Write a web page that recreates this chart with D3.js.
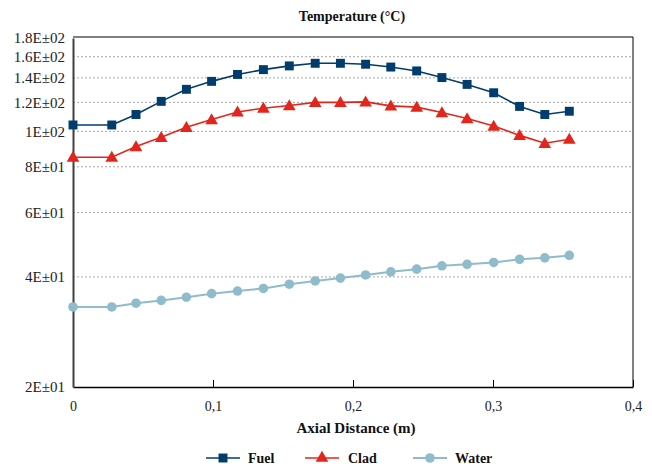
<!DOCTYPE html>
<html>
<head>
<meta charset="utf-8">
<script src="https://cdn.jsdelivr.net/npm/d3@7"></script>
<style>
  html, body { margin: 0; padding: 0; background: #fff; }
  svg { display: block; }
</style>
</head>
<body>
<svg id="chart" width="652" height="469"></svg>
<script>
// ---- data ----
const axialDistance = [0, 0.0277, 0.0450, 0.0630, 0.0810, 0.0990, 0.1175, 0.1360, 0.1545, 0.1730,
  0.1910, 0.2090, 0.2270, 0.2455, 0.2635, 0.2815, 0.3005, 0.3190, 0.3370, 0.3545];
const fuel = [104.1, 104.1, 111.2, 120.8, 130.3, 137.0, 143.1, 147.5, 151.0, 153.5,
  153.5, 152.6, 149.9, 146.3, 140.3, 134.4, 127.5, 117.0, 111.2, 113.5];
const clad = [85.0, 85.0, 90.9, 96.3, 102.6, 107.7, 113.0, 115.7, 117.7, 120.0,
  120.0, 120.4, 117.4, 116.5, 112.6, 108.4, 103.4, 97.5, 92.8, 95.2];
const water = [33.1, 33.1, 33.9, 34.5, 35.2, 36.0, 36.6, 37.2, 38.2, 39.0,
  39.7, 40.5, 41.3, 42.0, 42.9, 43.3, 43.8, 44.7, 45.1, 45.8];
const yTickValues = [20, 40, 60, 80, 100, 120, 140, 160, 180];
const yTickLabels = ["2E±01", "4E±01", "6E±01", "8E±01", "1E±02", "1.2E±02", "1.4E±02", "1.6E±02", "1.8E±02"];
const xTickValues = [0, 0.1, 0.2, 0.3, 0.4];
const xTickLabels = ["0", "0,1", "0,2", "0,3", "0,4"];
const seriesNames = ["Fuel", "Clad", "Water"];

// ---- layout ----
const svg = d3.select("#chart");
const L = 73, R = 633, T = 37, B = 387;
const serif = "'Liberation Serif', 'Times New Roman', serif";

const x = d3.scaleLinear().domain([0, 0.4]).range([L, R]);
const y = d3.scaleLog().domain([20, 180]).range([B, T + 1]);

// gridlines
svg.append("g").selectAll("line")
  .data(yTickValues.filter(v => v > 20 && v < 180))
  .join("line")
  .attr("x1", L).attr("x2", R)
  .attr("y1", d => y(d)).attr("y2", d => y(d))
  .attr("stroke", "#a8a8a8").attr("stroke-width", 1)
  .attr("stroke-dasharray", "2,2");

// frame top/right
svg.append("line").attr("x1", L).attr("x2", R).attr("y1", T).attr("y2", T)
  .attr("stroke", "#000").attr("stroke-width", 1);
svg.append("line").attr("x1", R).attr("x2", R).attr("y1", T).attr("y2", B)
  .attr("stroke", "#000").attr("stroke-width", 1);

// x axis (ticks inside)
const xAxis = d3.axisBottom(x).tickValues(xTickValues)
  .tickFormat((d, i) => xTickLabels[i]).tickSizeInner(-7).tickSizeOuter(0).tickPadding(14);
const gx = svg.append("g").attr("transform", `translate(0,${B})`).call(xAxis);
gx.select(".domain").attr("stroke", "#000").attr("stroke-width", 1.3);
gx.selectAll(".tick line").attr("stroke", "#000").attr("stroke-width", 1);
gx.selectAll(".tick text").attr("font-family", serif).attr("font-size", 14).attr("fill", "#222");

// y axis
const yAxis = d3.axisLeft(y).tickValues(yTickValues)
  .tickFormat((d, i) => yTickLabels[i]).tickSize(0).tickPadding(8);
const gy = svg.append("g").attr("transform", `translate(${L},0)`).call(yAxis);
gy.select(".domain").attr("stroke", "#404040").attr("stroke-width", 2);
gy.selectAll(".tick text").attr("font-family", serif).attr("font-size", 15).attr("fill", "#222");

// titles
svg.append("text").attr("x", 352).attr("y", 21).attr("text-anchor", "middle")
  .attr("font-family", serif).attr("font-weight", "bold").attr("font-size", 14).attr("fill", "#111")
  .text("Temperature (°C)");
svg.append("text").attr("x", 356).attr("y", 433).attr("text-anchor", "middle")
  .attr("font-family", serif).attr("font-weight", "bold").attr("font-size", 15).attr("fill", "#111")
  .text("Axial Distance (m)");

// series
const colors = { Fuel: "#003c6c", Clad: "#e3261c", Water: "#8fbccb" };
const values = { Fuel: fuel, Clad: clad, Water: water };
const symbols = { Fuel: d3.symbolSquare, Clad: d3.symbolTriangle, Water: d3.symbolCircle };
const sizes = { Fuel: 80, Clad: 70, Water: 72 };
const lineW = { Fuel: 1.6, Clad: 1.6, Water: 2 };

const line = d3.line().x(d => x(d[0])).y(d => y(d[1]));

seriesNames.forEach(name => {
  const pts = axialDistance.map((d, i) => [d, values[name][i]]);
  svg.append("path").datum(pts).attr("d", line)
    .attr("fill", "none").attr("stroke", colors[name]).attr("stroke-width", lineW[name]);
  const sym = d3.symbol().type(symbols[name]).size(sizes[name]);
  svg.append("g").selectAll("path").data(pts).join("path")
    .attr("d", sym)
    .attr("transform", d => `translate(${x(d[0])},${y(d[1]) + (name === "Clad" ? 1 : 0)})`)
    .attr("fill", colors[name]);
});

// legend
const legendItems = [
  { name: "Fuel", x0: 206, text: 248 },
  { name: "Clad", x0: 305, text: 348 },
  { name: "Water", x0: 413, text: 455 }
];
const ly = 458;
const lg = svg.append("g");
legendItems.forEach(it => {
  lg.append("line").attr("x1", it.x0).attr("x2", it.x0 + 34).attr("y1", ly).attr("y2", ly)
    .attr("stroke", colors[it.name]).attr("stroke-width", lineW[it.name]);
  lg.append("path").attr("d", d3.symbol().type(symbols[it.name]).size(sizes[it.name])())
    .attr("transform", `translate(${it.x0 + 17},${ly})`)
    .attr("fill", colors[it.name]);
  lg.append("text").attr("x", it.text).attr("y", ly + 5)
    .attr("font-family", serif).attr("font-weight", "bold").attr("font-size", 14).attr("fill", "#111")
    .text(it.name);
});
</script>
</body>
</html>
